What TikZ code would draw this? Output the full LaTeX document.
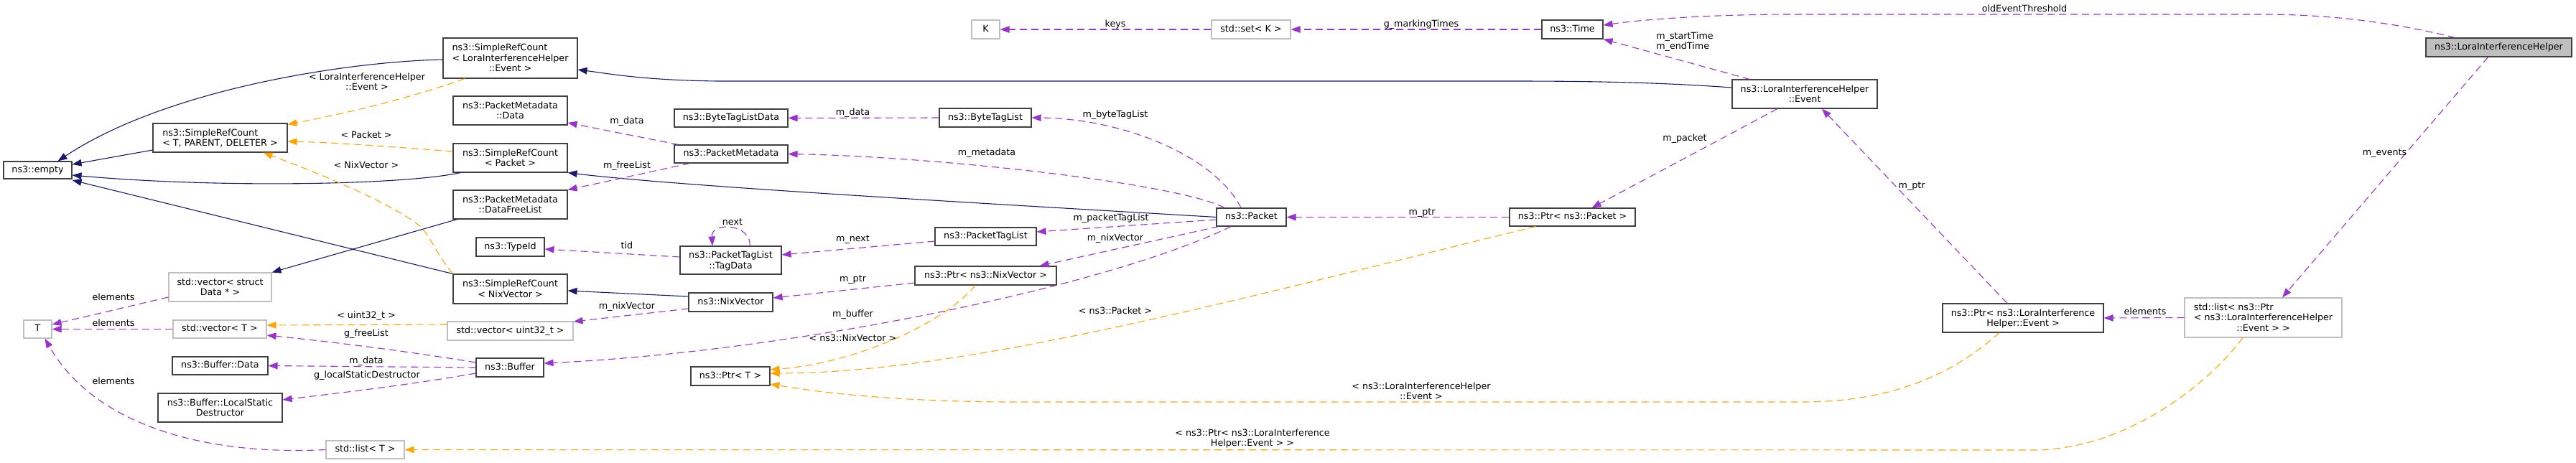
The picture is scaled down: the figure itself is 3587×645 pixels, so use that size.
\documentclass[tikz,border=0pt]{standalone}
\usepackage{fontspec}
\setmainfont{DejaVu Sans}
\usetikzlibrary{arrows.meta}
\definecolor{navy}{HTML}{191970}
\definecolor{orch}{HTML}{9A32CD}
\definecolor{orng}{HTML}{FFA500}
\definecolor{gbord}{HTML}{BFBFBF}
\definecolor{nbord}{HTML}{404040}
\newcommand\ml[1]{\begin{tabular}{@{}l@{}}\rule{0pt}{13pt}#1\end{tabular}}
\newcommand\mlast[1]{\multicolumn{1}{@{}c@{}}{#1}}
\tikzset{
  nbox/.style={draw=nbord, fill=white, line width=1.1pt, inner sep=2pt, font=\fontsize{12.7}{14.4}\selectfont},
  gnbox/.style={nbox, draw=gbord},
  sl/.style={text height=9.4pt, text depth=2.6pt},
  lbl/.style={font=\fontsize{12.7}{14.4}\selectfont, inner sep=0pt, text height=9.4pt, text depth=2.6pt},
  lblm/.style={font=\fontsize{12.7}{14.4}\selectfont, inner sep=0pt, align=center},
  ainh/.style={draw=navy, line width=1.1pt, -{Triangle[length=13pt,width=9.5pt]}},
  ause/.style={draw=orch, line width=1.1pt, dash pattern=on 10pt off 6pt, -{Triangle[length=13pt,width=9.5pt]}},
  atmpl/.style={draw=orng, line width=1.1pt, dash pattern=on 10pt off 6pt, -{Triangle[length=13pt,width=9.5pt]}}
}
\begin{document}
\begin{tikzpicture}[x=1pt,y=-1pt]
\fill[white] (0,0) rectangle (3587,645);
\useasboundingbox (0,0) rectangle (3587,645);

% nodes
\node[nbox,sl,minimum width=95pt,minimum height=24pt] (empty) at (52.5,237) {ns3::empty};
\node[nbox,minimum width=187pt,minimum height=40pt] (srcT) at (306.5,192) {\ml{ns3::SimpleRefCount\\\mlast{< T, PARENT, DELETER >}}};
\node[gnbox,minimum width=143pt,minimum height=40pt] (vecData) at (306.5,400) {\ml{std::vector< struct\\\mlast{Data * >}}};
\node[gnbox,sl,minimum width=39pt,minimum height=25pt] (T) at (52.5,458.5) {T};
\node[gnbox,sl,minimum width=130pt,minimum height=25pt] (vecT) at (306,458.5) {std::vector< T >};
\node[nbox,sl,minimum width=133pt,minimum height=25pt] (bufData) at (306.5,509.5) {ns3::Buffer::Data};
\node[nbox,minimum width=173pt,minimum height=40pt] (lsd) at (306.5,568) {\ml{ns3::Buffer::LocalStatic\\\mlast{Destructor}}};
\node[nbox,minimum width=187pt,minimum height=56pt] (srcEvent) at (710.5,81) {\ml{ns3::SimpleRefCount\\< LoraInterferenceHelper\\\mlast{::Event >}}};
\node[nbox,minimum width=159pt,minimum height=40pt] (pmData) at (710.5,154) {\ml{ns3::PacketMetadata\\\mlast{::Data}}};
\node[nbox,minimum width=159pt,minimum height=40pt] (srcPacket) at (710.5,220) {\ml{ns3::SimpleRefCount\\\mlast{< Packet >}}};
\node[nbox,minimum width=159pt,minimum height=40pt] (pmFree) at (710.5,285) {\ml{ns3::PacketMetadata\\\mlast{::DataFreeList}}};
\node[nbox,sl,minimum width=95pt,minimum height=26pt] (typeId) at (710.5,344) {ns3::TypeId};
\node[nbox,minimum width=159pt,minimum height=41pt] (srcNix) at (710.5,402.5) {\ml{ns3::SimpleRefCount\\\mlast{< NixVector >}}};
\node[gnbox,sl,minimum width=175pt,minimum height=26pt] (vecU32) at (710.5,461) {std::vector< uint32\_t >};
\node[nbox,sl,minimum width=94pt,minimum height=26pt] (buffer) at (710,512) {ns3::Buffer};
\node[gnbox,sl,minimum width=109pt,minimum height=25pt] (listT) at (508.5,626.5) {std::list< T >};
\node[gnbox,sl,minimum width=39pt,minimum height=26pt] (K) at (1372.5,41) {K};
\node[nbox,sl,minimum width=158pt,minimum height=25pt] (btld) at (1018,164.5) {ns3::ByteTagListData};
\node[nbox,sl,minimum width=128pt,minimum height=26pt] (btl) at (1372,164) {ns3::ByteTagList};
\node[nbox,sl,minimum width=158pt,minimum height=25pt] (pm) at (1018,214.5) {ns3::PacketMetadata};
\node[nbox,minimum width=141pt,minimum height=39pt] (tagData) at (1017.5,362.5) {\ml{ns3::PacketTagList\\\mlast{::TagData}}};
\node[nbox,sl,minimum width=117pt,minimum height=26pt] (nix) at (1017.5,421) {ns3::NixVector};
\node[nbox,sl,minimum width=141pt,minimum height=25pt] (ptl) at (1372.5,329.5) {ns3::PacketTagList};
\node[nbox,sl,minimum width=197pt,minimum height=26pt] (ptrNix) at (1372.5,384) {ns3::Ptr< ns3::NixVector >};
\node[nbox,sl,minimum width=110pt,minimum height=26pt] (ptrT) at (1017,524) {ns3::Ptr< T >};
\node[gnbox,sl,minimum width=110pt,minimum height=26pt] (setK) at (1742,41) {std::set< K >};
\node[nbox,sl,minimum width=97pt,minimum height=25pt] (packet) at (1742.5,302.5) {ns3::Packet};
\node[nbox,sl,minimum width=85pt,minimum height=26pt] (time) at (2189.5,41) {ns3::Time};
\node[nbox,sl,minimum width=175pt,minimum height=25pt] (ptrPacket) at (2189.5,302.5) {ns3::Ptr< ns3::Packet >};
\node[nbox,minimum width=202pt,minimum height=40pt] (event) at (2513,131) {\ml{ns3::LoraInterferenceHelper\\\mlast{::Event}}};
\node[nbox,minimum width=224pt,minimum height=40pt] (ptrEvent) at (2817,443) {\ml{ns3::Ptr< ns3::LoraInterference\\\mlast{Helper::Event >}}};
\node[gnbox,minimum width=219pt,minimum height=55pt] (listPtr) at (3151.5,442.5) {\ml{std::list< ns3::Ptr\\< ns3::LoraInterferenceHelper\\\mlast{::Event > >}}};
\node[nbox,sl,fill=gbord,minimum width=203pt,minimum height=26pt] (lih) at (3479.5,66) {ns3::LoraInterferenceHelper};

% inheritance (navy)
\draw[ainh] ([yshift=-2pt]srcEvent.west) .. controls (480,86) and (230,125) .. ([xshift=28pt]empty.north);
\draw[ainh] ([yshift=-17pt]srcT.west) -- ([yshift=8pt]empty.east);
\draw[ainh] ([xshift=11pt]srcPacket.south west) .. controls (560,258) and (300,262) .. ([yshift=-7pt]empty.east);
\draw[ainh] (srcNix.north west) -- ([yshift=-14pt]empty.east);
\draw[ainh] ([xshift=6pt]pmFree.south west) -- (vecData.north east);
\draw[ainh] ([yshift=9pt]event.west) .. controls (2300,114) and (2200,113) .. (2100,113) -- (1000,113) .. controls (900,112) and (850,103) .. ([yshift=-16pt]srcEvent.east);
\draw[ainh] (packet.west) .. controls (1400,285) and (950,260) .. (srcPacket.south east);
\draw[ainh] ([yshift=8pt]nix.west) -- ([yshift=-2.5pt]srcNix.east);

% usage (purple)
\draw[ause] ([yshift=-14pt]vecData.west) -- ([yshift=6.5pt]T.east);
\draw[ause] (vecT.west) -- (T.east);
\draw[ause] (listT.west) .. controls (280,635) and (130,590) .. ([xshift=10pt]T.south);
\draw[ause] ([yshift=7pt]buffer.west) .. controls (560,488) and (450,475) .. ([yshift=-8.5pt]vecT.east);
\draw[ause] (buffer.west) -- (bufData.east);
\draw[ause] ([yshift=-8pt]buffer.west) .. controls (560,538) and (450,550) .. ([yshift=11pt]lsd.east);
\draw[ause] ([xshift=22pt]pm.south west) -- (pmFree.north east);
\draw[ause] ([xshift=6pt]pm.north west) -- ([yshift=-17pt]pmData.east);
\draw[ause] (btl.west) -- (btld.east);
\draw[ause] ([xshift=-14.5pt]packet.north) .. controls (1690,215) and (1560,165) .. (btl.east);
\draw[ause] ([xshift=-37.5pt]packet.north) .. controls (1640,255) and (1300,218) .. (pm.east);
\draw[ause] ([yshift=-3.5pt]packet.west) -- ([yshift=6.5pt]ptl.east);
\draw[ause] ([yshift=-6.5pt]ptl.west) -- ([yshift=7.5pt]tagData.east);
\draw[ause] ([xshift=26.5pt]tagData.north) .. controls (1047,312) and (990,308) .. ([xshift=-25.5pt]tagData.north);
\draw[ause] ([yshift=4.5pt]tagData.west) -- ([yshift=-3pt]typeId.east);
\draw[ause] ([xshift=-45.5pt]packet.south) -- ([xshift=-24pt]ptrNix.north east);
\draw[ause] ([yshift=-10pt]ptrNix.west) -- ([yshift=6pt]nix.east);
\draw[ause] ([xshift=-28.5pt]packet.south) .. controls (1540,400) and (1100,490) .. ([yshift=6pt]buffer.east);
\draw[ause] ([yshift=-9pt]nix.west) -- ([yshift=13pt]vecU32.east);
\draw[ause] (ptrPacket.west) -- (packet.east);
\draw[ause] ([xshift=25pt]event.north west) -- (time.south east);
\draw[ause] ([xshift=-38pt]event.south) -- ([xshift=27pt]ptrPacket.north);
\draw[ause] ([xshift=-22pt]ptrEvent.north) -- ([xshift=24pt]event.south);
\draw[ause] (listPtr.west) -- (ptrEvent.east);
\draw[ause] ([xshift=-15pt]lih.south) -- ([xshift=26.5pt]listPtr.north);
\draw[ause] ([xshift=-61pt]lih.north) .. controls (3320,28) and (3230,20) .. (3150,20) -- (2500,20) .. controls (2380,20) and (2290,27) .. ([yshift=6pt]time.east);
\draw[ause] (setK.west) -- (K.east);
\draw[ause] (time.west) -- (setK.east);

% template instances (orange)
\draw[atmpl] ([xshift=31pt]srcEvent.south west) .. controls (560,140) and (480,158) .. ([yshift=-2pt]srcT.north east);
\draw[atmpl] ([yshift=9pt]srcPacket.west) .. controls (550,205) and (480,199) .. ([yshift=-5pt]srcT.east);
\draw[atmpl] (srcNix.north west) .. controls (605,350) and (600,330) .. (585,315) .. controls (540,280) and (440,240) .. ([xshift=60pt]srcT.south);
\draw[atmpl] ([yshift=9pt]vecU32.west) -- ([yshift=5.5pt]vecT.east);
\draw[atmpl] ([xshift=-14.5pt]ptrNix.south) .. controls (1320,445) and (1200,505) .. ([yshift=9pt]ptrT.east);
\draw[atmpl] ([xshift=-51pt]ptrPacket.south) .. controls (1750,410) and (1350,520) .. ([yshift=4pt]ptrT.east);
\draw[atmpl] ([xshift=-33pt]ptrEvent.south) .. controls (2710,530) and (2620,560) .. (2510,560) -- (1400,560) .. controls (1250,559) and (1150,548) .. ([yshift=-11pt]ptrT.east);
\draw[atmpl] ([xshift=-28.5pt]listPtr.south) .. controls (3075,535) and (2960,627) .. (2830,627) -- (listT.east);

% labels
\node[lbl] (l1) at (158,415) {elements};
\node[lbl] (l2) at (158,451) {elements};
\node[lbl] (l3) at (158,532) {elements};
\node[lblm] (l4) at (511,114) {< LoraInterferenceHelper\\::Event >};
\node[lbl] (l5) at (510,189) {< Packet >};
\node[lbl] (l6) at (510,231) {< NixVector >};
\node[lbl] (l7) at (873,169) {m\_data};
\node[lbl] (l8) at (873,231) {m\_freeList};
\node[lbl] (l9) at (873,343) {tid};
\node[lbl] (l10) at (873,427) {m\_nixVector};
\node[lbl] (l11) at (510,440) {< uint32\_t >};
\node[lbl] (l12) at (510,465) {g\_freeList};
\node[lbl] (l13) at (510,503) {m\_data};
\node[lbl] (l14) at (511,523) {g\_localStaticDestructor};
\node[lbl] (l15) at (1187.5,157) {m\_data};
\node[lbl] (l16) at (1374,213) {m\_metadata};
\node[lbl] (l17) at (1020,310) {next};
\node[lbl] (l18) at (1187.5,333) {m\_next};
\node[lbl] (l19) at (1187.5,389) {m\_ptr};
\node[lbl] (l20) at (1187.5,438) {m\_buffer};
\node[lbl] (l21) at (1187.5,472) {< ns3::NixVector >};
\node[lbl] (l22) at (1553,34) {keys};
\node[lbl] (l23) at (1979,34) {g\_markingTimes};
\node[lbl] (l24) at (1553,160) {m\_byteTagList};
\node[lbl] (l25) at (1547,304) {m\_packetTagList};
\node[lbl] (l26) at (1553,332) {m\_nixVector};
\node[lbl] (l27) at (1553,434) {< ns3::Packet >};
\node[lbl] (l28) at (1980,296) {m\_ptr};
\node[lblm] (l29) at (1979,545) {< ns3::LoraInterferenceHelper\\::Event >};
\node[lblm] (l30) at (1744,611) {< ns3::Ptr< ns3::LoraInterference\\Helper::Event > >};
\node[lbl] (l31) at (2819,13) {oldEventThreshold};
\node[lblm,align=left] (l32) at (2346,58) {m\_startTime\\m\_endTime};
\node[lbl] (l33) at (2346,193) {m\_packet};
\node[lbl] (l34) at (2662,259) {m\_ptr};
\node[lbl] (l35) at (2987,435) {elements};
\node[lbl] (l36) at (3320.5,213) {m\_events};
\end{tikzpicture}
\end{document}
